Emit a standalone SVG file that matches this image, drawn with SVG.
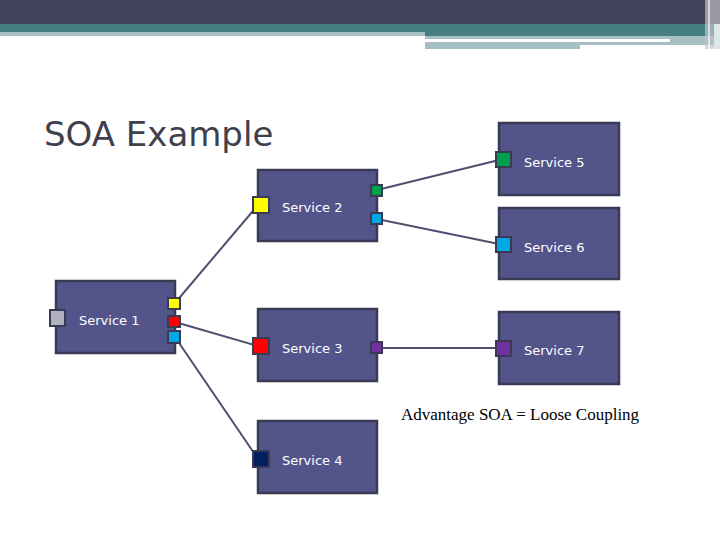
<svg xmlns="http://www.w3.org/2000/svg" width="720" height="540" viewBox="0 0 720 540">
<style>
.box{fill:#52548a;stroke:#3a3a55;stroke-width:2.5}
.port{stroke:#3a3a55;stroke-width:2}
.lbl{font-family:"DejaVu Sans","Liberation Sans",sans-serif;font-size:13px;fill:#ffffff}
.ln{stroke:#4f4f70;stroke-width:2;fill:none}
</style>
<rect width="720" height="540" fill="#fff"/>
<rect x="0" y="0" width="720" height="24" fill="#41425a"/>
<rect x="0" y="24" width="720" height="8" fill="#467f82"/>
<rect x="0" y="32" width="425" height="4" fill="#a5bfc2"/>
<rect x="425" y="32" width="295" height="4" fill="#467f82"/>
<rect x="425" y="36" width="245" height="3" fill="#a5bfc2"/>
<rect x="425" y="42" width="245" height="3" fill="#a5bfc2"/>
<rect x="425" y="45" width="155" height="4" fill="#a5bfc2"/>
<rect x="670" y="36" width="45" height="9" fill="#a5bfc2"/>
<rect x="705" y="0" width="15" height="49" fill="#c0c0c8" opacity="0.7"/>
<rect x="708" y="0" width="2" height="49" fill="#ffffff" opacity="0.6"/>
<rect x="714" y="24" width="6" height="25" fill="#dce8e8"/>
<text x="44" y="146" font-family="DejaVu Sans,'Liberation Sans',sans-serif" font-size="34" fill="#3f3f4e">SOA Example</text>
<g id="connectors">
<line class="ln" x1="175" y1="303" x2="258" y2="205"/>
<line class="ln" x1="175" y1="322" x2="258" y2="346"/>
<line class="ln" x1="175" y1="337" x2="258" y2="459"/>
<line class="ln" x1="377" y1="190" x2="499" y2="160"/>
<line class="ln" x1="377" y1="219" x2="499" y2="244"/>
<line class="ln" x1="377" y1="348" x2="499" y2="348"/>
</g>
<g id="service1"><rect class="box" x="56" y="281" width="119" height="72"/><rect class="port" x="50" y="310" width="15" height="16" fill="#b0b0c0"/><rect class="port" x="168" y="298" width="12" height="11" fill="#ffff00"/><rect class="port" x="168" y="316" width="12" height="11" fill="#ff0000"/><rect class="port" x="168" y="331" width="12" height="12" fill="#00a8e8"/><text class="lbl" x="79" y="325">Service 1</text></g>
<g id="service2"><rect class="box" x="258" y="170" width="119" height="71"/><rect class="port" x="253" y="197" width="16" height="16" fill="#ffff00"/><rect class="port" x="371" y="185" width="11" height="11" fill="#00a050"/><rect class="port" x="371" y="213" width="11" height="11" fill="#00a8e8"/><text class="lbl" x="282" y="212">Service 2</text></g>
<g id="service3"><rect class="box" x="258" y="309" width="119" height="72"/><rect class="port" x="253" y="338" width="16" height="16" fill="#ff0000"/><rect class="port" x="371" y="342" width="11" height="11" fill="#7030a0"/><text class="lbl" x="282" y="353">Service 3</text></g>
<g id="service4"><rect class="box" x="258" y="421" width="119" height="72"/><rect class="port" x="253" y="451" width="16" height="16" fill="#002060"/><text class="lbl" x="282" y="465">Service 4</text></g>
<g id="service5"><rect class="box" x="499" y="123" width="120" height="72"/><rect class="port" x="496" y="152" width="15" height="15" fill="#00a050"/><text class="lbl" x="524" y="167">Service 5</text></g>
<g id="service6"><rect class="box" x="499" y="208" width="120" height="71"/><rect class="port" x="496" y="237" width="15" height="15" fill="#00a8e8"/><text class="lbl" x="524" y="252">Service 6</text></g>
<g id="service7"><rect class="box" x="499" y="312" width="120" height="72"/><rect class="port" x="496" y="341" width="15" height="15" fill="#7030a0"/><text class="lbl" x="524" y="355">Service 7</text></g>
<text x="401" y="420" font-family="'Liberation Serif',serif" font-size="17" fill="#000">Advantage SOA  = Loose Coupling</text>
</svg>
